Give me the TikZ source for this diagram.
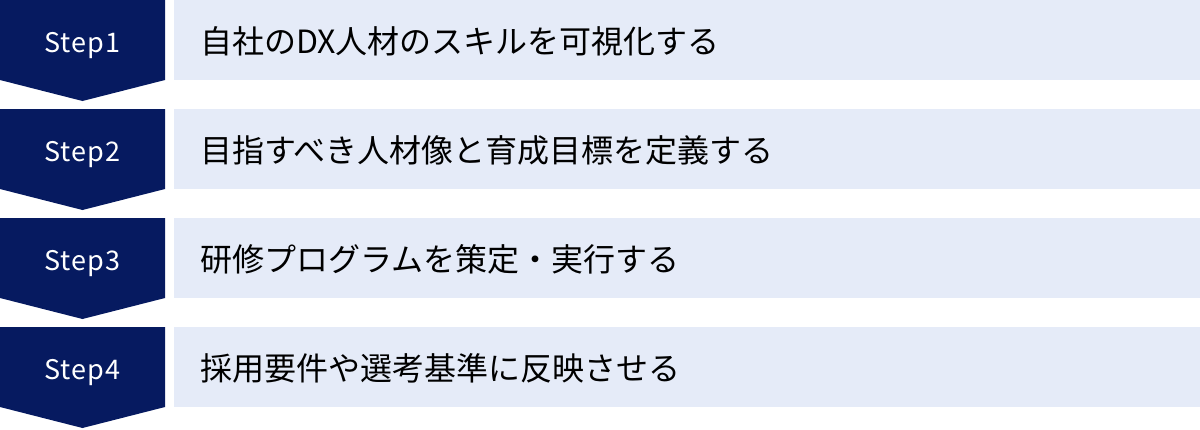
\documentclass[tikz,border=0pt]{standalone}
\usepackage{fontspec}
\setmainfont{Noto Sans CJK JP}
\newfontfamily\labelfont[LetterSpace=4]{Noto Sans CJK JP}
\definecolor{navy}{HTML}{061A60}
\definecolor{pale}{HTML}{E5EBF8}
\tikzset{
  chev/.style={fill=navy, draw=none},
  stepbox/.style={fill=pale, draw=none, minimum width=1026pt, minimum height=80pt, anchor=north west, inner sep=0pt},
  steplabel/.style={text=white, font=\labelfont\fontsize{27pt}{30pt}\selectfont, anchor=base, inner sep=0pt},
  steptext/.style={text=black, font=\fontsize{32pt}{36pt}\selectfont, anchor=base west, inner sep=0pt}
}
\begin{document}
\begin{tikzpicture}[x=1pt,y=-1pt]
\useasboundingbox (0,0) rectangle (1200,429);
\foreach \i/\txt in {1/自社のDX人材のスキルを可視化する,2/目指すべき人材像と育成目標を定義する,3/研修プログラムを策定・実行する,4/採用要件や選考基準に反映させる}{
  \pgfmathsetmacro{\t}{109*(\i-1)}
  \fill[chev] (0,\t) -- (165,\t) -- (165,\t+80) -- (82.5,\t+101) -- (0,\t+80) -- cycle;
  \node[stepbox] (box\i) at (174,\t) {};
  \node[steplabel] (lab\i) at (82.5,\t+52) {Step\i};
  \node[steptext] (txt\i) at (200,\t+53) {\txt};
}
\end{tikzpicture}
\end{document}
